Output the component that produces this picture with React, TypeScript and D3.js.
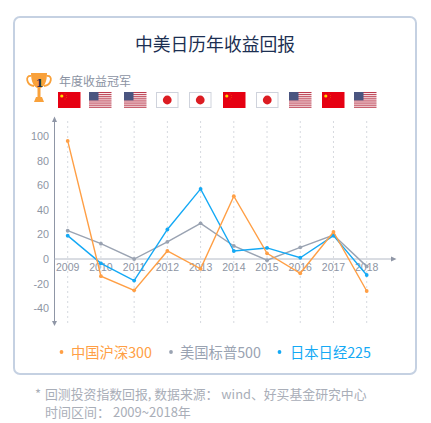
import React from "react";
import * as d3 from "d3";

const years = ["2009","2010","2011","2012","2013","2014","2015","2016","2017","2018"];
const china = [96,-14,-25.5,6.5,-8,51,4.6,-11.6,22,-26];
const usa = [23,12.5,0,14,29,10.6,-1,9.5,19.5,-6];
const japan = [19,-3.5,-17.5,24,57,6.5,9,1,19,-13];
const yTicks = [100,80,60,40,20,0,-20,-40];
const winners = ["cn","us","us","jp","jp","cn","jp","us","cn","us"];
const flagLeft = [58,89,124,156,189,223,256,289,322,354];
const seriesNames = ["中国沪深300","美国标普500","日本日经225"];
const colors = ["#ff9f45","#9aa3b2","#14a9f5"];
const FONT = "'Noto Sans CJK SC','Noto Sans',sans-serif";
const TICK = "'Liberation Sans',Arial,sans-serif";

const x = d3.scalePoint<string>().domain(years).range([67.7,366.7]);
const y = d3.scaleLinear().domain([0,100]).range([259,136]);
const line = d3.line<number>().x((_, i) => x(years[i]) as number).y(d => y(d));

function Flag({kind,xp}:{kind:string;xp:number}) {
  const w = 22.5, h = 16, t = 92;
  if (kind==="cn") return <g>
    <rect x={xp} y={t} width={w} height={h} fill="#e60012"/>
    <circle cx={xp+3.8} cy={t+4} r={1.6} fill="#ffd800"/>
    {[[7,1.8],[8.3,3.4],[8.3,5.4],[7,7]].map((p,i)=><circle key={i} cx={xp+p[0]} cy={t+p[1]} r={0.4} fill="#f08a00"/>)}
  </g>;
  if (kind==="jp") return <g>
    <rect x={xp+0.5} y={t+0.5} width={w-1} height={h-1} fill="#fff" stroke="#cfd3dc"/>
    <circle cx={xp+w/2} cy={t+h/2} r={4.4} fill="#dc1c22"/>
  </g>;
  const stripes = d3.range(8);
  return <g>
    <rect x={xp} y={t} width={w} height={h} fill="#fff"/>
    {stripes.map(i=><rect key={i} x={xp} y={t+i*2.1} width={w} height={1.1} fill="#bb3b4e"/>)}
    <rect x={xp} y={t} width={9.5} height={8.4} fill="#4a5580"/>
  </g>;
}

export default function App() {
  const all = [china,usa,japan];
  const dotX = [61.5,171,279.5];
  const textX = [71,180,290];
  return (
    <svg width={431} height={423} style={{position:"absolute",left:0,top:0,background:"#fff"}}>
      <rect x={14} y={17} width={402} height={357} rx={6} fill="#fff" stroke="#c5d1e2" strokeWidth={2}/>
      <text x={215} y={51} textAnchor="middle" fontFamily={FONT} fontSize={17.8} fill="#1c2f52">中美日历年收益回报</text>

      <g>
        <path d="M31 73 L47 73 C47 82 44 87 40.5 88 L37.5 88 C34 87 31 82 31 73 Z" fill="#f9a13a"/>
        <path d="M31 76 C25 75 26 85 34 86 M47 76 C53 75 52 85 44 86" fill="none" stroke="#f9a13a" strokeWidth={1.8}/>
        <rect x={37.5} y={87} width={3} height={10} fill="#f9a13a"/>
        <path d="M34 102 L44 102 L42 97 L36 97 Z" fill="#f9a13a"/>
        <text x={39.5} y={86.5} textAnchor="middle" fontFamily="'DejaVu Serif',serif" fontWeight={700} fontSize={11} fill="#1c2f52">1</text>
      </g>
      <text x={59} y={85.5} fontFamily={FONT} fontSize={12} fill="#8b93a3">年度收益冠军</text>
      {winners.map((k,i)=><Flag key={i} kind={k} xp={flagLeft[i]}/>)}

      {years.map(v=><line key={v} x1={x(v)} x2={x(v)} y1={121} y2={325} stroke="#d6d9df" strokeWidth={1} strokeDasharray="2 3"/>)}
      <line x1={54.5} x2={54.5} y1={120} y2={324} stroke="#8f96a6" strokeWidth={1}/>
      <path d="M52 122 L54.5 116.5 L57 122 Z" fill="#8f96a6"/>
      <path d="M52 321 L54.5 326 L57 321 Z" fill="#8f96a6"/>
      <line x1={54.5} x2={392} y1={259} y2={259} stroke="#b4bac6" strokeWidth={1}/>
      <path d="M391 256.5 L396.5 259 L391 261.5 Z" fill="#8f96a6"/>
      {yTicks.map(t=><text key={t} x={49} y={y(t)+4} textAnchor="end" fontFamily={TICK} fontSize={10.8} fill="#8e95a3">{t}</text>)}
      {years.map(v=><text key={v} x={x(v)} y={270.5} textAnchor="middle" fontFamily={TICK} fontSize={10.5} fill="#8e95a3">{v}</text>)}

      {[1,2,0].map(s=><g key={s}>
        <path d={line(all[s]) as string} fill="none" stroke={colors[s]} strokeWidth={1.4}/>
        {all[s].map((v,i)=><circle key={i} cx={x(years[i])} cy={y(v)} r={1.9} fill={colors[s]}/>)}
      </g>)}

      {seriesNames.map((n,i)=><g key={n}>
        <circle cx={dotX[i]} cy={352} r={1.9} fill={colors[i]}/>
        <text x={textX[i]} y={357.5} fontFamily={FONT} fontSize={14.3} fill={colors[i]}>{n}</text>
      </g>)}

      <text x={35} y={399} fontFamily={FONT} fontSize={13} fill="#a9aeb8">*</text>
      <text x={45} y={399} fontFamily={FONT} fontSize={12.85} fill="#a9aeb8">回测投资指数回报, 数据来源： wind、好买基金研究中心</text>
      <text x={45} y={417} fontFamily={FONT} fontSize={13} fill="#a9aeb8">时间区间： 2009~2018年</text>
    </svg>
  );
}
